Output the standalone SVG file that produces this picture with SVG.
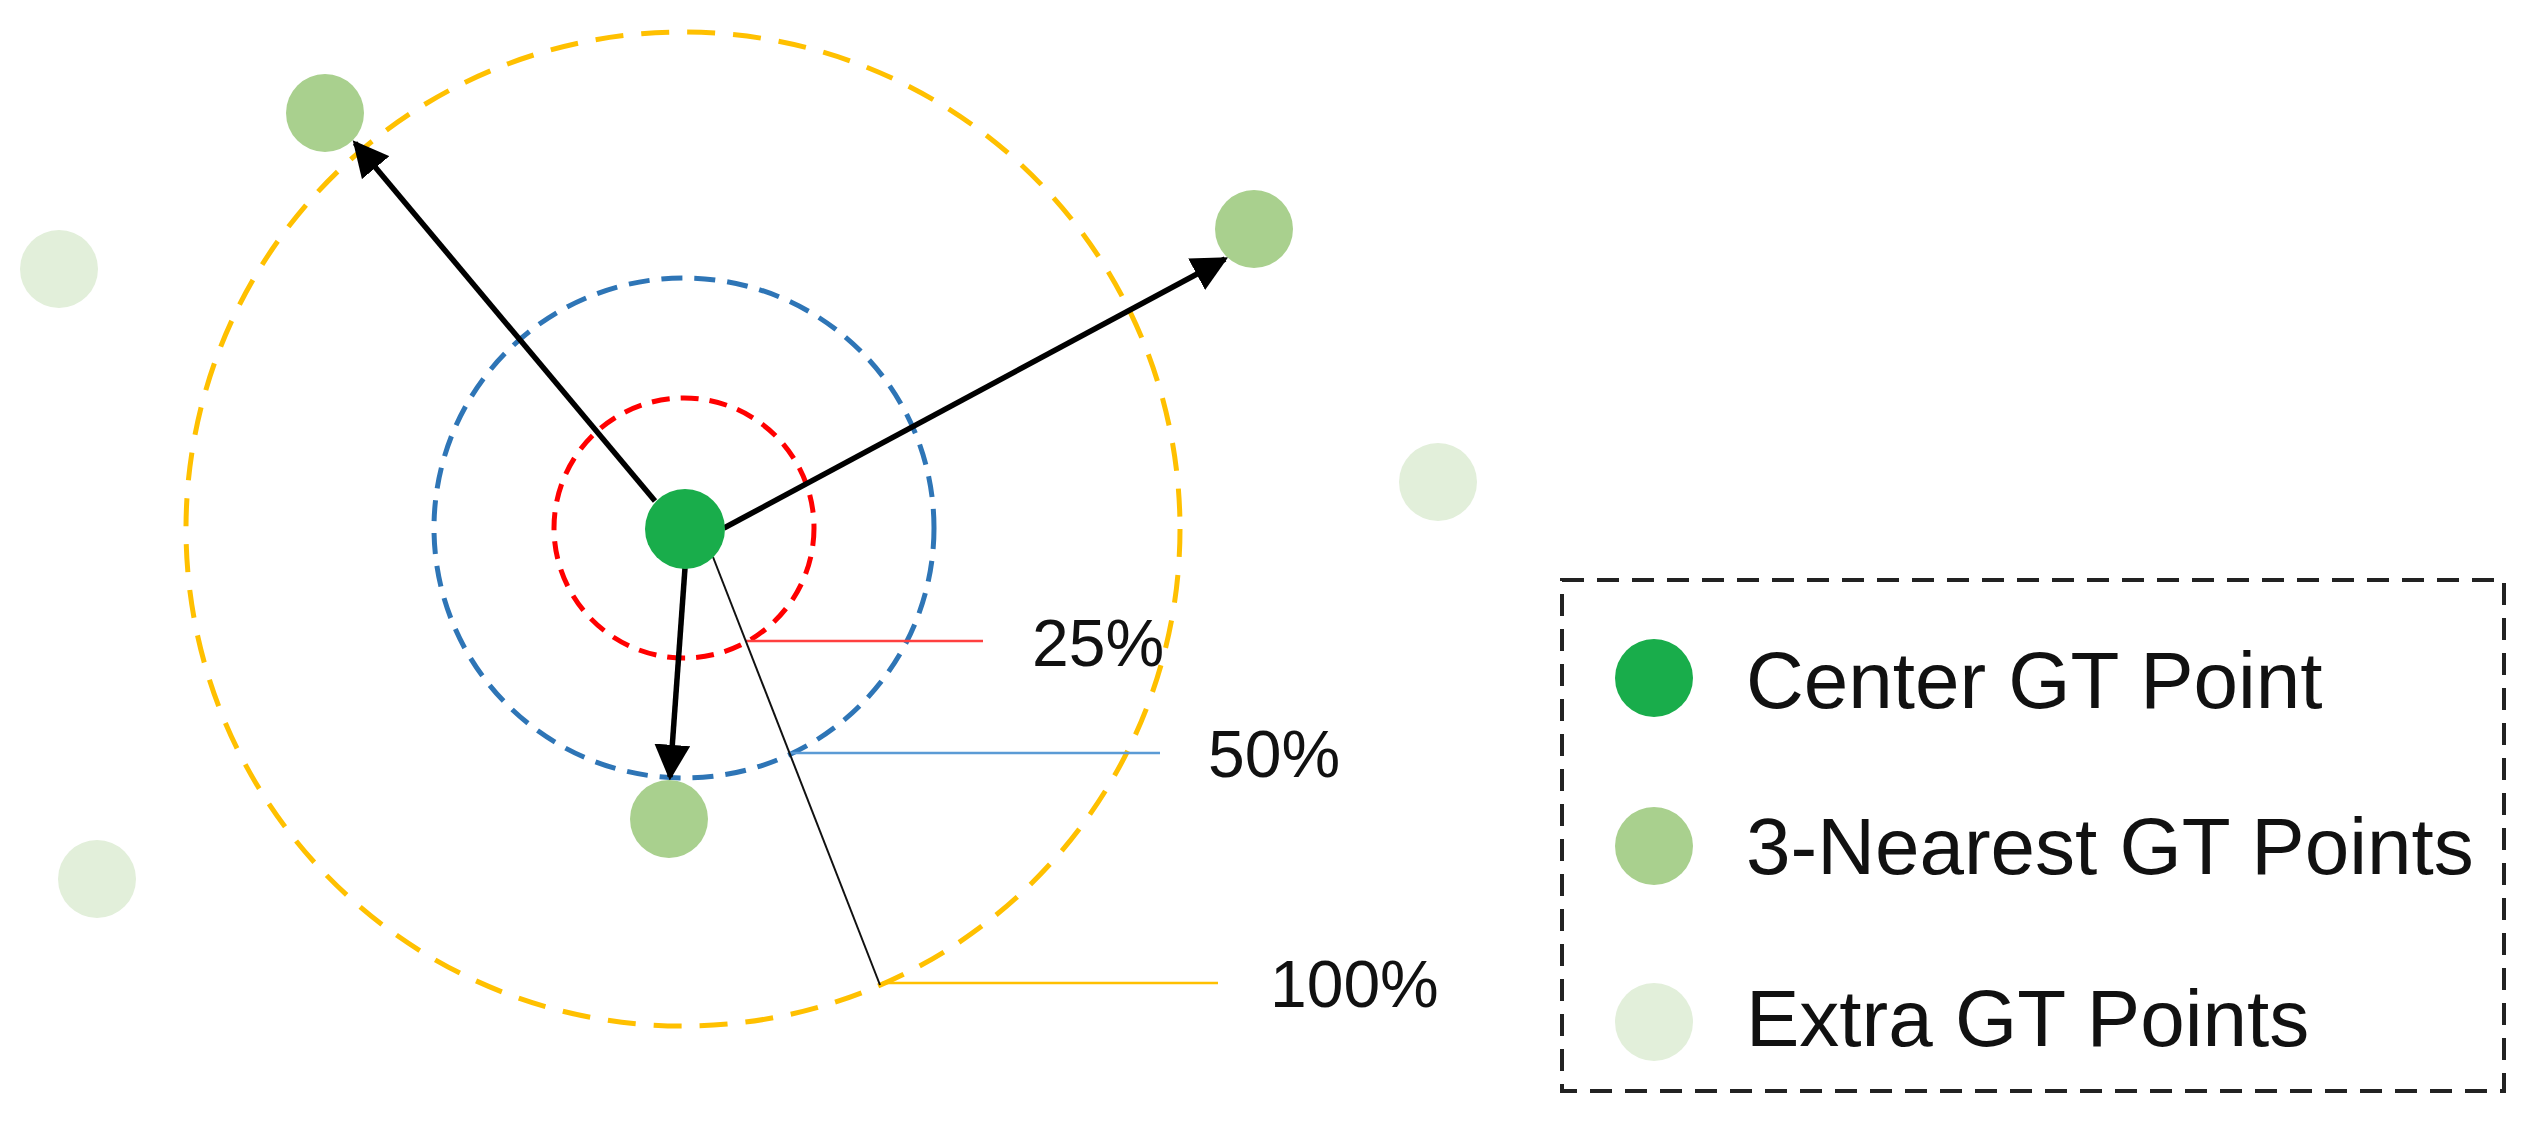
<svg xmlns="http://www.w3.org/2000/svg" width="2537" height="1122" viewBox="0 0 2537 1122">
<style>
.ring{fill:none;stroke-width:5}
.lbl{font-family:"Liberation Sans",Arial,sans-serif;font-size:66px;fill:#111}
.leg{font-family:"Liberation Sans",Arial,sans-serif;font-size:80px;fill:#111}
.arrow{stroke:#000;stroke-width:5.5;fill:none;marker-end:url(#ah)}
.center{fill:#19ad4b}
.near{fill:#a9d08e}
.extra{fill:#e2efda}
</style>
<defs>
<marker id="ah" viewBox="0 0 10 10" refX="9" refY="5" markerWidth="6.5" markerHeight="6.5" markerUnits="strokeWidth" orient="auto">
<path d="M0,0 L10,5 L0,10 z" fill="#000"/>
</marker>
</defs>
<rect width="2537" height="1122" fill="#fff"/>
<g id="rings">
<circle class="ring" cx="683" cy="529" r="497" stroke="#ffc000" stroke-dasharray="28 18"/>
<circle class="ring" cx="684" cy="528" r="250" stroke="#2e75b6" stroke-dasharray="21 12"/>
<circle class="ring" cx="684" cy="528" r="130" stroke="#ff0000" stroke-dasharray="18 11"/>
</g>
<g id="connectors">
<line x1="746" y1="641" x2="983" y2="641" stroke="#ff4040" stroke-width="2.5"/>
<line x1="790" y1="753" x2="1160" y2="753" stroke="#5b9bd5" stroke-width="2.5"/>
<line x1="882" y1="983" x2="1218" y2="983" stroke="#ffc000" stroke-width="2.5"/>
<line x1="713" y1="557" x2="880" y2="985" stroke="#111" stroke-width="2"/>
<line class="arrow" x1="655" y1="501" x2="355" y2="143"/>
<line class="arrow" x1="724" y1="528" x2="1225" y2="259"/>
<line class="arrow" x1="685" y1="568" x2="670" y2="777"/>
</g>
<g id="center-point"><circle class="center" cx="685" cy="529" r="40"/></g>
<g id="near-1"><circle class="near" cx="325" cy="113" r="39"/></g>
<g id="near-2"><circle class="near" cx="1254" cy="229" r="39"/></g>
<g id="near-3"><circle class="near" cx="669" cy="819" r="39"/></g>
<g id="extra-1"><circle class="extra" cx="59" cy="269" r="39"/></g>
<g id="extra-2"><circle class="extra" cx="1438" cy="482" r="39"/></g>
<g id="extra-3"><circle class="extra" cx="97" cy="879" r="39"/></g>
<g id="labels">
<text class="lbl" x="1032" y="666">25%</text>
<text class="lbl" x="1208" y="777">50%</text>
<text class="lbl" x="1270" y="1007">100%</text>
</g>
<g id="legend">
<rect x="1562" y="580" width="942" height="511" fill="none" stroke="#222" stroke-width="4" stroke-dasharray="22 13"/>
<circle class="center" cx="1654" cy="678" r="39"/>
<text class="leg" x="1746" y="708">Center GT Point</text>
<circle class="near" cx="1654" cy="846" r="39"/>
<text class="leg" x="1746" y="874">3-Nearest GT Points</text>
<circle class="extra" cx="1654" cy="1022" r="39"/>
<text class="leg" x="1746" y="1046">Extra GT Points</text>
</g>
</svg>
